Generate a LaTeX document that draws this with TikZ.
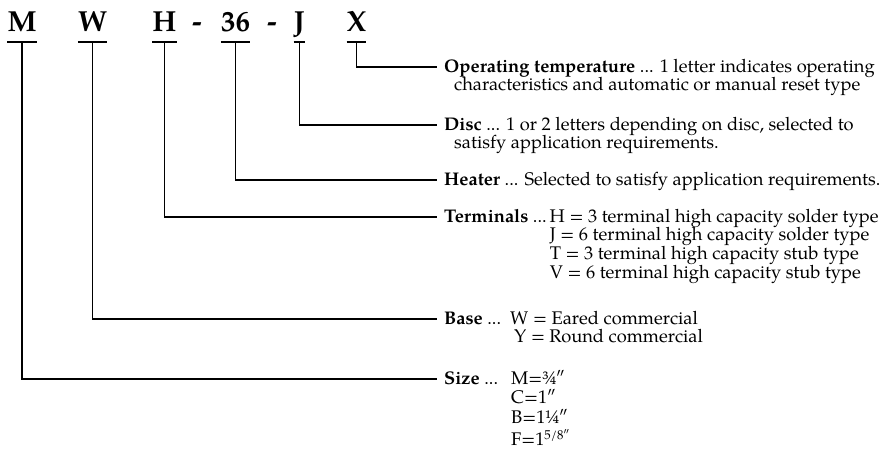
\documentclass[tikz,border=0pt]{standalone}
\usepackage{fontspec}
\setmainfont{TeX Gyre Pagella}
\usetikzlibrary{positioning,calc}
\tikzset{
  code/.style={font=\fontsize{29}{32}\selectfont\bfseries, inner sep=0pt, anchor=base},
  desc/.style={font=\fontsize{18.3}{18.9}\selectfont, inner sep=0pt, anchor=base west},
  lead/.style={line width=1.6pt},
}
\newcommand{\rows}[1]{\begin{tabular}[t]{@{}l@{}}#1\end{tabular}}

\begin{document}
\begin{tikzpicture}[x=1pt, y=1pt]
  \useasboundingbox (0,0) rectangle (888,-452);

  % PART NUMBER
  \node[code] (cm) at (22,-32) {M};
  \node[code] (cw) at (92.5,-32) {W};
  \node[code] (ch) at (164.5,-32) {H};
  \node[code] (hy1) at (197,-32) {-};
  \node[code] (c36) at (235.5,-32) {36};
  \node[code] (hy2) at (272,-32) {-};
  \node[code] (cj) at (299.5,-32) {J};
  \node[code] (cx) at (356.5,-32) {X};

  % LINE ENDS
  \coordinate (etemp) at (437,-67);
  \coordinate (edisc) at (437,-125);
  \coordinate (eheat) at (437,-180);
  \coordinate (eterm) at (437,-217);
  \coordinate (ebase) at (437,-319);
  \coordinate (esize) at (437,-379);

  % DESCRIPTIONS
  \node[desc] (dtemp) at ([shift={(7,-5)}]etemp) {\rows{\textbf{Operating temperature} ... 1 letter indicates operating\\
    \hspace{10pt}characteristics and automatic or manual reset type}};
  \node[desc] (ddisc) at ([shift={(7,-5)}]edisc) {\rows{\textbf{Disc} ... 1 or 2 letters depending on disc, selected to\\
    \hspace{10pt}satisfy application requirements.}};
  \node[desc] (dheat) at ([shift={(7,-5)}]eheat) {\textbf{Heater} ... Selected to satisfy application requirements.};
  \node[desc] (dterm) at ([shift={(7,-5)}]eterm) {\textbf{Terminals} ...\,\rows{H = 3 terminal high capacity solder type\\
    J = 6 terminal high capacity solder type\\
    T = 3 terminal high capacity stub type\\
    V = 6 terminal high capacity stub type}};
  \node[desc] (dbase) at ([shift={(7,-5)}]ebase) {\textbf{Base} ... \hspace{3pt}\rows{W = Eared commercial\\
    \hspace{4pt}Y = Round commercial}};
  \node[desc] (dsize) at ([shift={(7,-5)}]esize) {\textbf{Size} ... \hspace{7pt}\rows{M=¾″\\C=1″\\B=1¼″\\F=1\textsuperscript{5/8″}}};

  % LEADERS
  \foreach \c/\e in {cm/esize, cw/ebase, ch/eterm, c36/eheat, cj/edisc, cx/etemp}{
    \draw[lead] ([yshift=-10pt]\c.base west) -- ([yshift=-10pt]\c.base east);
    \draw[lead] ([yshift=-10pt]\c.base) |- (\e);
  }
\end{tikzpicture}
\end{document}
